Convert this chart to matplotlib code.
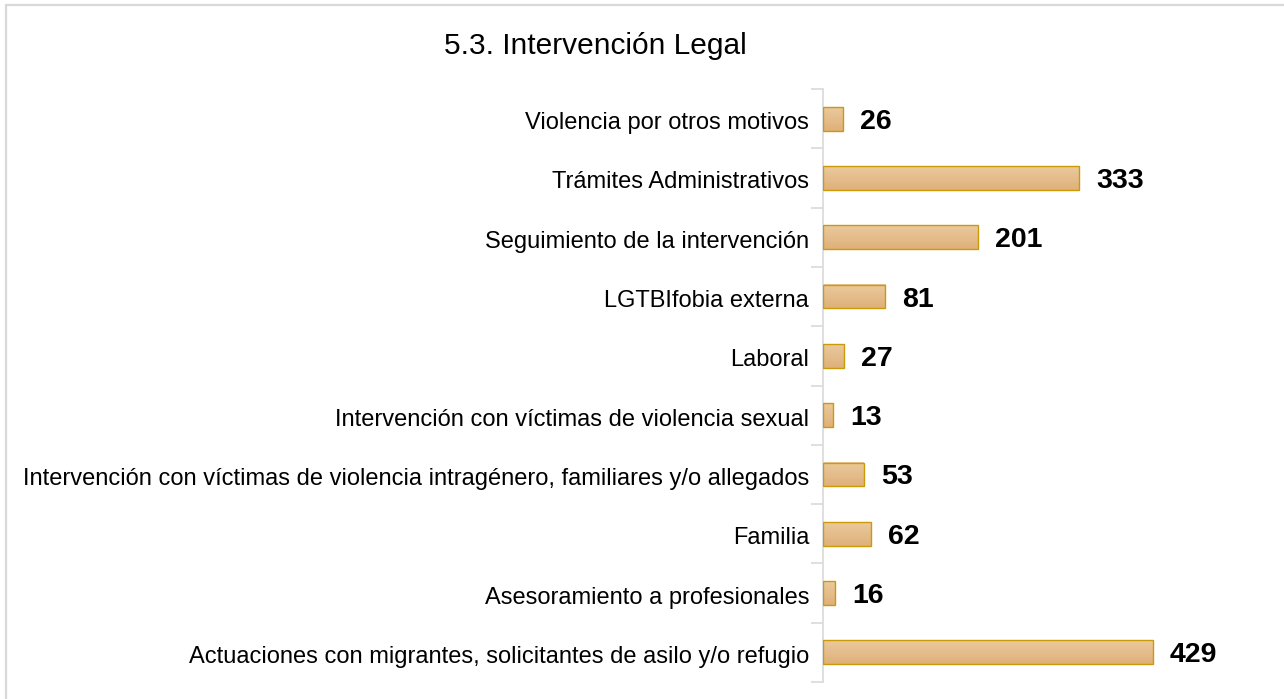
import numpy as np
import matplotlib
matplotlib.use("Agg")
import matplotlib.pyplot as plt
import matplotlib.transforms as mtransforms
from matplotlib.colors import LinearSegmentedColormap
from matplotlib.patches import Rectangle

plt.rcParams['font.family'] = ['Liberation Sans', 'DejaVu Sans']

categories = [
    "Actuaciones con migrantes, solicitantes de asilo y/o refugio",
    "Asesoramiento a profesionales",
    "Familia",
    "Intervención con víctimas de violencia intragénero, familiares y/o allegados",
    "Intervención con víctimas de violencia sexual",
    "Laboral",
    "LGTBIfobia externa",
    "Seguimiento de la intervención",
    "Trámites Administrativos",
    "Violencia por otros motivos",
]
values = [429, 16, 62, 53, 13, 27, 81, 201, 333, 26]
title = "5.3. Intervención Legal"

fig = plt.figure(figsize=(12.84, 6.99), dpi=100)

# light grey frame around the chart
fig.patches.append(Rectangle((6 / 1284, -0.05), 1.2, (699 - 5) / 699 + 0.05,
                             transform=fig.transFigure, fill=False,
                             edgecolor='#D9D9D9', linewidth=1.6))

ax = fig.add_axes([823 / 1284, 1 - 682 / 699, 447 / 1284, 593 / 699])

y = np.arange(len(categories))
bar_h = 0.4
cmap = LinearSegmentedColormap.from_list("bar", ["#DFB07A", "#EBCA9E"])
grad = np.linspace(0, 1, 50).reshape(-1, 1)

for yi, v in zip(y, values):
    ax.imshow(grad, extent=(0, v, yi - bar_h / 2, yi + bar_h / 2), cmap=cmap,
              aspect='auto', origin='lower', zorder=2.5)
    ax.barh(yi, v, height=bar_h, fill=False, edgecolor='#CC9A06', linewidth=1.0, zorder=3)
    ax.annotate(str(v), xy=(v, yi), xytext=(17, -3), textcoords='offset pixels',
                va='center', ha='left', fontsize=20.5, fontweight='bold', color='black')

ax.set_xlim(0, 581)
ax.set_ylim(-0.5, len(categories) - 0.5)
ax.set_yticks(y)
ax.set_yticklabels(categories, fontsize=17)
ax.set_yticks(np.arange(len(categories) + 1) - 0.5, minor=True)
ax.tick_params(axis='y', which='major', length=0, pad=10)
ax.tick_params(axis='y', which='minor', length=9, color='#D9D9D9', width=1.2)
shift = mtransforms.ScaledTranslation(0, -2 / 100, fig.dpi_scale_trans)
for lab in ax.get_yticklabels():
    lab.set_transform(lab.get_transform() + shift)
ax.xaxis.set_visible(False)
for s in ['top', 'right', 'bottom']:
    ax.spines[s].set_visible(False)
ax.spines['left'].set_color('#D9D9D9')
ax.spines['left'].set_linewidth(1.2)

fig.text(595 / 1284, 1 - 46 / 699, title, ha='center', va='center', fontsize=21.5)

fig.savefig("out.png", dpi=100)
